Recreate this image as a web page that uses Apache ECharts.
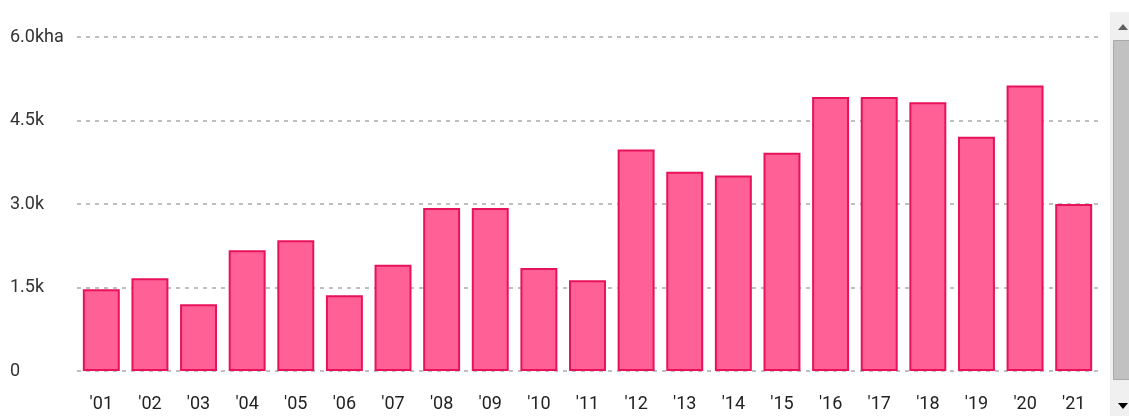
<!DOCTYPE html>
<html>
<head>
<meta charset="utf-8">
<script src="https://cdn.jsdelivr.net/npm/echarts@6/dist/echarts.min.js"></script>
<style>
html,body{margin:0;padding:0;background:#fff;}
#c{width:1129px;height:416px;}
</style>
</head>
<body>
<div id="c"></div>
<script>
var categories = ["'01","'02","'03","'04","'05","'06","'07","'08","'09","'10","'11","'12","'13","'14","'15","'16","'17","'18","'19","'20","'21"];
var values = [1470,1665,1200,2170,2350,1360,1910,2930,2930,1850,1630,3980,3580,3510,3920,4920,4920,4830,4210,5130,3000];
var yTicks = {0:'0',1500:'1.5k',3000:'3.0k',4500:'4.5k',6000:'6.0kha'};

var chart = echarts.init(document.getElementById('c'));
chart.setOption({
  animation:false,
  grid:{left:77,right:31,top:37,bottom:45,containLabel:false},
  xAxis:{
    type:'category',
    data:categories,
    axisLine:{show:false},
    axisTick:{show:false},
    axisLabel:{color:'#222',fontSize:18,fontFamily:'Roboto',margin:24}
  },
  yAxis:{
    type:'value',
    min:0,max:6000,interval:1500,
    axisLine:{show:false},
    axisTick:{show:false},
    axisLabel:{
      color:'#333',fontSize:18,fontFamily:'Roboto',align:'left',margin:67,
      formatter:function(v){return yTicks[v]!==undefined?yTicks[v]:'';}
    },
    splitLine:{show:true,lineStyle:{color:'#aaa',type:[4,5],width:1.5}}
  },
  series:[{
    type:'bar',
    data:values,
    barCategoryGap:'24%',
    itemStyle:{color:'#ff6196',borderColor:'#e8125c',borderWidth:2}
  }],
  graphic:[
    {type:'rect',shape:{x:1110,y:12,width:19,height:404},style:{fill:'#f0f0f0'},z:10},
    {type:'rect',shape:{x:1113.5,y:40.5,width:16,height:339},style:{fill:'#c1c1c1',stroke:'#a9a9a9',lineWidth:1},z:11},
    {type:'polygon',shape:{points:[[1118,30],[1128,30],[1123,24]]},style:{fill:'#606060'},z:11},
    {type:'polygon',shape:{points:[[1118,403],[1128,403],[1123,409]]},style:{fill:'#000'},z:11}
  ]
});
</script>
</body>
</html>
